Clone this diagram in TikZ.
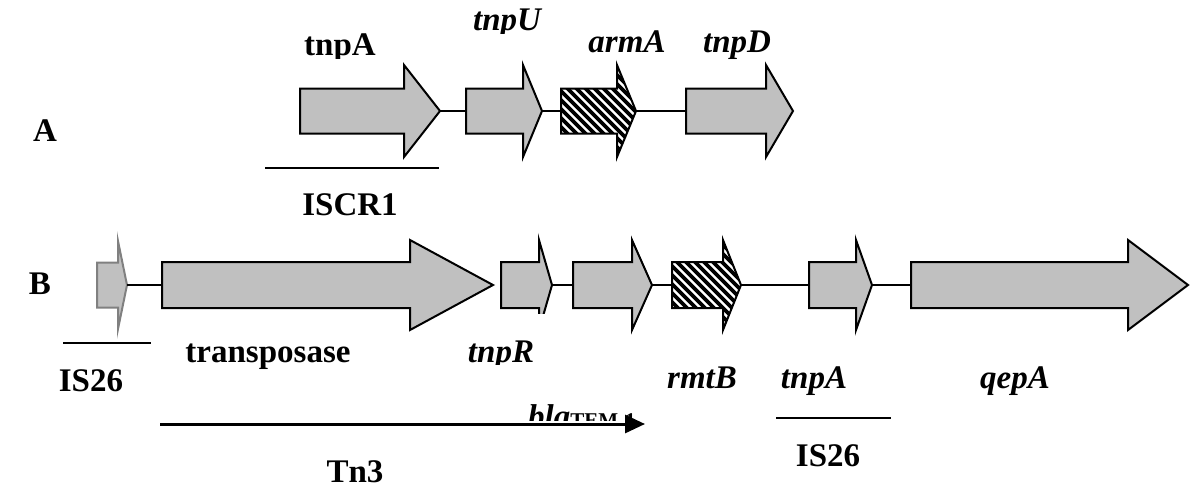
\documentclass[tikz,border=0pt]{standalone}
\usepackage{fontspec}
\setmainfont{Liberation Serif}
\usetikzlibrary{arrows.meta}
\definecolor{genegray}{HTML}{C0C0C0}
\definecolor{isgray}{HTML}{808080}
% #1 x0, #2 head base, #3 tip, #4 yc, #5 body half, #6 head half
\newcommand{\geneshape}[6]{(#1,#4-#5) -- (#2,#4-#5) -- (#2,#4-#6) -- (#3,#4) -- (#2,#4+#6) -- (#2,#4+#5) -- (#1,#4+#5) -- cycle}
% #1 name, #2 style, #3..#8 geometry
\newcommand{\genearrow}[8]{%
  \path[#2] \geneshape{#3}{#4}{#5}{#6}{#7}{#8};
  \coordinate (#1-w) at (#3,#6);
  \coordinate (#1-e) at (#5,#6);}
\newcommand{\hatcharrow}[7]{%
  \begin{scope}
    \clip \geneshape{#2}{#3}{#4}{#5}{#6}{#7};
    \fill[white] (#2-5,#5-#7-5) rectangle (#4+5,#5+#7+5);
    \foreach \k in {-100,-91,...,110}
      \draw[line width=3.6pt] (#2+\k,#5-#7-2) -- ++(2*#7+4,2*#7+4);
  \end{scope}
  \path[gene,fill=none] \geneshape{#2}{#3}{#4}{#5}{#6}{#7};
  \coordinate (#1-w) at (#2,#5);
  \coordinate (#1-e) at (#4,#5);}
\begin{document}
\begin{tikzpicture}[x=1pt,y=-1pt,
  gene/.style={draw=black,line width=2pt,fill=genegray,line join=miter},
  isgene/.style={draw=isgray,line width=2pt,fill=genegray,line join=miter},
  link/.style={line width=2pt},
  bar/.style={line width=2.2pt},
  lbl/.style={anchor=base,inner sep=0pt,font=\fontsize{33}{38}\selectfont\bfseries},
  ilbl/.style={anchor=base,inner sep=0pt,font=\fontsize{33}{38}\selectfont\bfseries\itshape}]
\useasboundingbox (0,0) rectangle (1190,488);

% ---------- row A ----------
\genearrow{a1}{gene}{300}{404}{440}{111}{22.5}{46}
\genearrow{a2}{gene}{466}{523}{542}{111}{22.5}{46}
\hatcharrow{a3}{561}{617}{636}{111}{22.5}{46}
\genearrow{a4}{gene}{686}{766}{793}{111}{22.5}{46}
\draw[link] (a1-e) -- (a2-w);
\draw[link] (a2-e) -- (a3-w);
\draw[link] (a3-e) -- (a4-w);

\node[lbl] (labA) at (45,141) {A};
\begin{scope}
  \clip (250,0) rectangle (420,58);
  \node[lbl] (tnpAa) at (340,55) {tnpA};
\end{scope}
\begin{scope}
  \clip (450,0) rectangle (570,33);
  \node[ilbl] (tnpU) at (507,30) {tnpU};
\end{scope}
\node[ilbl] (armA) at (627,52) {armA};
\node[ilbl] (tnpD) at (737,52) {tnpD};

\coordinate (iscrL) at (265,168);
\coordinate (iscrR) at (439,168);
\draw[bar] (iscrL) -- (iscrR);
\node[lbl] (iscr) at (350,215) {ISCR1};

% ---------- row B ----------
\genearrow{b0}{isgene}{97}{118}{127}{285}{22.5}{44}
\genearrow{b1}{gene}{162}{410}{493}{285}{23}{45}
\begin{scope}
  \clip (0,0) rectangle (1190,313);
  \genearrow{b2}{gene}{501}{539}{552}{285}{23}{45}
\end{scope}
\genearrow{b3}{gene}{573}{632}{652}{285}{23}{45}
\hatcharrow{b4}{672}{723}{741}{285}{23}{45}
\genearrow{b5}{gene}{809}{856}{872}{285}{23}{45}
\genearrow{b6}{gene}{911}{1128}{1188}{285}{23}{45}
\draw[link] (b0-e) -- (b1-w);
\draw[link] (b2-e) -- (b3-w);
\draw[link] (b3-e) -- (b4-w);
\draw[link] (b4-e) -- (b5-w);
\draw[link] (b5-e) -- (b6-w);

\node[lbl] (labB) at (40,294) {B};

\coordinate (is1L) at (63,343);
\coordinate (is1R) at (151,343);
\draw[bar] (is1L) -- (is1R);
\node[lbl] (is1) at (91,391) {IS26};

\node[lbl] (transp) at (268,362) {transposase};
\begin{scope}
  \clip (460,313) rectangle (560,364);
  \node[ilbl] (tnpR) at (501,362) {tnpR};
\end{scope}
\begin{scope}
  \clip (500,380) rectangle (660,420);
  \node[lbl,anchor=base west] (bla) at (528,427) {\itshape bla\normalfont\bfseries\fontsize{21}{24}\selectfont TEM-1};
\end{scope}
\node[ilbl] (rmtB) at (702,388) {rmtB};
\node[ilbl] (tnpAb) at (814,388) {tnpA};
\node[ilbl] (qepA) at (1015,388) {qepA};

\coordinate (tnL) at (160,424);
\coordinate (tnR) at (645,424);
\draw[line width=3pt,-{Triangle[length=20pt,width=18pt]}] (tnL) -- (tnR);
\node[lbl] (tn3) at (355,482) {Tn3};

\coordinate (is2L) at (776,418);
\coordinate (is2R) at (891,418);
\draw[bar] (is2L) -- (is2R);
\node[lbl] (is2) at (828,466) {IS26};
\end{tikzpicture}
\end{document}
